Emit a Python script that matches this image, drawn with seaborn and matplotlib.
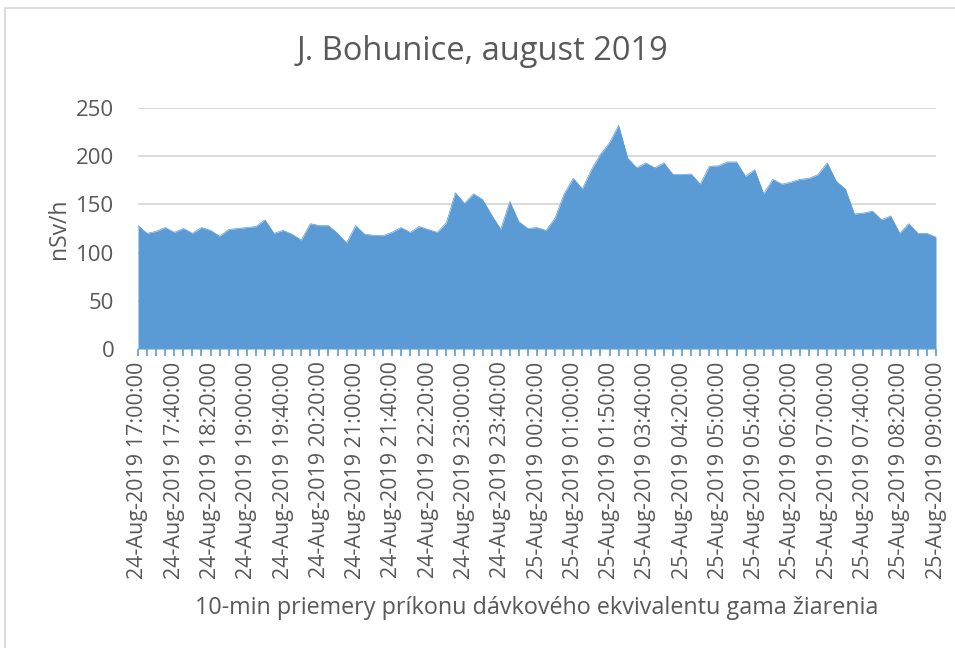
import matplotlib
matplotlib.use("Agg")
import matplotlib.pyplot as plt
import seaborn as sns
import pandas as pd
from matplotlib.patches import Rectangle

# 10-min samples (category axis, some slots missing in the source)
times = [
    "24-Aug-2019 17:00:00", "24-Aug-2019 17:10:00", "24-Aug-2019 17:20:00", "24-Aug-2019 17:30:00",
    "24-Aug-2019 17:40:00", "24-Aug-2019 17:50:00", "24-Aug-2019 18:00:00", "24-Aug-2019 18:10:00",
    "24-Aug-2019 18:20:00", "24-Aug-2019 18:30:00", "24-Aug-2019 18:40:00", "24-Aug-2019 18:50:00",
    "24-Aug-2019 19:00:00", "24-Aug-2019 19:10:00", "24-Aug-2019 19:20:00", "24-Aug-2019 19:30:00",
    "24-Aug-2019 19:40:00", "24-Aug-2019 19:50:00", "24-Aug-2019 20:00:00", "24-Aug-2019 20:10:00",
    "24-Aug-2019 20:20:00", "24-Aug-2019 20:30:00", "24-Aug-2019 20:40:00", "24-Aug-2019 20:50:00",
    "24-Aug-2019 21:00:00", "24-Aug-2019 21:10:00", "24-Aug-2019 21:20:00", "24-Aug-2019 21:30:00",
    "24-Aug-2019 21:40:00", "24-Aug-2019 21:50:00", "24-Aug-2019 22:00:00", "24-Aug-2019 22:10:00",
    "24-Aug-2019 22:20:00", "24-Aug-2019 22:30:00", "24-Aug-2019 22:40:00", "24-Aug-2019 22:50:00",
    "24-Aug-2019 23:00:00", "24-Aug-2019 23:10:00", "24-Aug-2019 23:20:00", "24-Aug-2019 23:30:00",
    "24-Aug-2019 23:40:00", "24-Aug-2019 23:50:00", "25-Aug-2019 00:00:00", "25-Aug-2019 00:10:00",
    "25-Aug-2019 00:20:00", "25-Aug-2019 00:30:00", "25-Aug-2019 00:40:00", "25-Aug-2019 00:50:00",
    "25-Aug-2019 01:00:00", "25-Aug-2019 01:10:00", "25-Aug-2019 01:20:00", "25-Aug-2019 01:30:00",
    "25-Aug-2019 01:50:00", "25-Aug-2019 02:00:00", "25-Aug-2019 02:10:00", "25-Aug-2019 03:30:00",
    "25-Aug-2019 03:40:00", "25-Aug-2019 03:50:00", "25-Aug-2019 04:00:00", "25-Aug-2019 04:10:00",
    "25-Aug-2019 04:20:00", "25-Aug-2019 04:30:00", "25-Aug-2019 04:40:00", "25-Aug-2019 04:50:00",
    "25-Aug-2019 05:00:00", "25-Aug-2019 05:10:00", "25-Aug-2019 05:20:00", "25-Aug-2019 05:30:00",
    "25-Aug-2019 05:40:00", "25-Aug-2019 05:50:00", "25-Aug-2019 06:00:00", "25-Aug-2019 06:10:00",
    "25-Aug-2019 06:20:00", "25-Aug-2019 06:30:00", "25-Aug-2019 06:40:00", "25-Aug-2019 06:50:00",
    "25-Aug-2019 07:00:00", "25-Aug-2019 07:10:00", "25-Aug-2019 07:20:00", "25-Aug-2019 07:30:00",
    "25-Aug-2019 07:40:00", "25-Aug-2019 07:50:00", "25-Aug-2019 08:00:00", "25-Aug-2019 08:10:00",
    "25-Aug-2019 08:20:00", "25-Aug-2019 08:30:00", "25-Aug-2019 08:40:00", "25-Aug-2019 08:50:00",
    "25-Aug-2019 09:00:00",
]

dose = [
    128, 120, 122, 126, 121, 125, 120, 126, 123, 117,
    124, 125, 126, 127, 134, 120, 123, 119, 113, 130,
    128, 128, 120, 110, 128, 119, 118, 117.5, 121, 126,
    121, 127, 124, 121, 131, 162, 151, 161, 155, 139,
    124, 153, 132, 125, 126, 123, 136, 161, 177, 166,
    186, 202, 214, 232, 198, 188, 193, 188, 193, 181,
    181, 181.5, 171, 189.5, 190, 194, 194, 179, 186, 161,
    176, 171, 173, 176, 177, 181, 193, 174, 166, 140,
    141, 143, 134, 138, 120, 130, 120, 120, 116,
]

yticks = [0, 50, 100, 150, 200, 250]

df = pd.DataFrame({"cas": times, "davka": dose})
df["pos"] = range(len(df))

sns.set_theme(style="white")
plt.rcParams["font.family"] = ["Open Sans", "DejaVu Sans"]

blue = "#5b9bd5"
gray_txt = "#595959"

fig = plt.figure(figsize=(9.55, 6.48), dpi=100)
ax = fig.add_axes([138 / 955, 1 - 349 / 648, (936 - 138) / 955, (349 - 108) / 648])

ax.fill_between(df["pos"], df["davka"], 0, color=blue, linewidth=0, zorder=2)
sns.lineplot(data=df, x="pos", y="davka", color=blue, linewidth=0.5, ax=ax, zorder=3)

ax.set_xlim(0, len(df) - 1)
ax.set_ylim(0, 250)
ax.set_yticks(yticks)
ax.yaxis.grid(True, color="#d9d9d9", linewidth=1.3, zorder=0)
ax.set_axisbelow(True)
for s in ax.spines.values():
    s.set_visible(False)

ax.set_xticks(df["pos"])
ax.set_xticklabels([t if i % 4 == 0 else "" for i, t in enumerate(times)],
                   rotation=90, fontsize=15.5, color=gray_txt)
ax.tick_params(axis="x", length=5, width=1.2, color=blue, pad=4, bottom=True)
ax.tick_params(axis="y", length=0, pad=17, labelsize=16, labelcolor=gray_txt)

ax.set_xlabel("10-min priemery príkonu dávkového ekvivalentu gama žiarenia",
              fontsize=16.8, color=gray_txt, labelpad=12)
ax.set_ylabel("nSv/h", fontsize=16.5, color=gray_txt, labelpad=4)
fig.text(0.505, 1 - 52 / 648, "J. Bohunice, august 2019", ha="center", va="center",
         fontsize=23.5, color=gray_txt)

# outer chart frame (only top and left visible in the crop)
fig.patches.append(Rectangle((5 / 955, -0.1), 1.2, 0.1 + (1 - 8 / 648), transform=fig.transFigure,
                             fill=False, edgecolor="#d9d9d9", linewidth=1.3))

fig.savefig("out.png", dpi=100)
